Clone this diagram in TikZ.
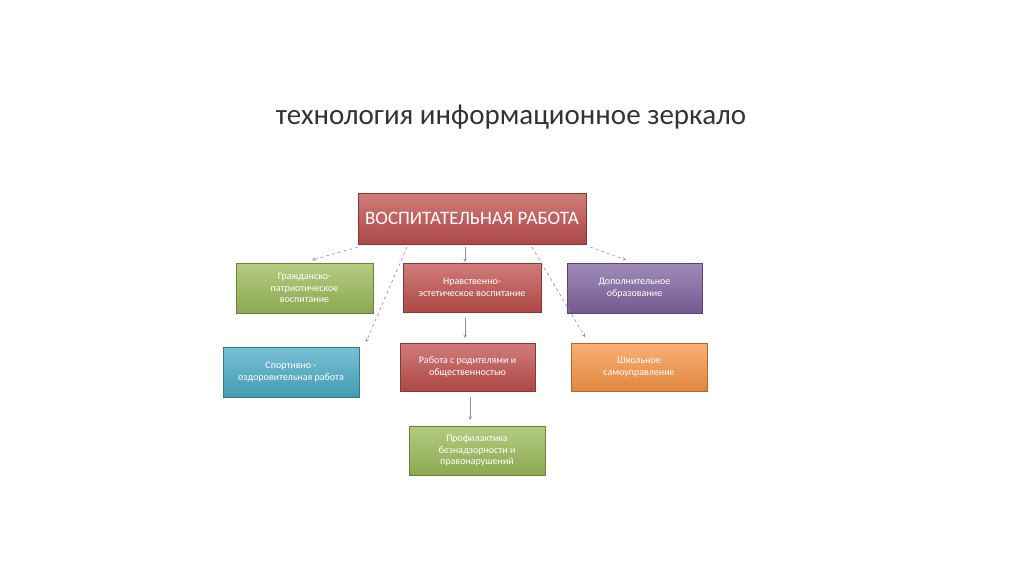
\documentclass[tikz,border=0pt]{standalone}
\usepackage{fontspec}
\setmainfont{Carlito}
\begin{document}
\begin{tikzpicture}[x=1pt,y=-1pt,
 bx/.style={draw=#1!70!black,line width=0.6pt,top color=#1!75!white,bottom color=#1!90!black,text=white,align=center,font=\fontsize{10}{11.5}\selectfont,inner sep=2pt},
 ar/.style={-stealth,draw=blue!30!gray!70,line width=0.6pt},
 da/.style={ar,dashed}]
\definecolor{cred}{HTML}{C0504D}\definecolor{cgreen}{HTML}{9BBB59}
\definecolor{cpurp}{HTML}{8064A2}\definecolor{caqua}{HTML}{4BACC6}\definecolor{corng}{HTML}{F79646}
\useasboundingbox (0,0) rectangle (1024,576);
\node[text=black!80,font=\fontsize{29}{32}\selectfont] (title) at (511,117) {технология информационное зеркало};
\node[bx=cred,minimum width=228pt,minimum height=51pt,font=\fontsize{19}{22}\selectfont] (main) at (472,218.5) {ВОСПИТАТЕЛЬНАЯ РАБОТА};
\node[bx=cgreen,minimum width=137pt,minimum height=50pt] (g) at (304.5,288) {Гражданско-\\патриотическое\\воспитание};
\node[bx=cred,minimum width=138pt,minimum height=49pt] (n) at (472,287.5) {Нравственно-\\эстетическое воспитание};
\node[bx=cpurp,minimum width=135pt,minimum height=50pt] (d) at (634.5,288) {Дополнительное\\образование};
\node[bx=caqua,minimum width=136pt,minimum height=50pt] (s) at (291,372) {Спортивно -\\оздоровительная работа};
\node[bx=cred,minimum width=135pt,minimum height=48pt] (r) at (467.5,367) {Работа с родителями и\\общественностью};
\node[bx=corng,minimum width=136pt,minimum height=48pt] (sh) at (639,367) {Школьное\\самоуправление};
\node[bx=cgreen,minimum width=136pt,minimum height=49pt] (p) at (477,450.5) {Профилактика\\безнадзорности и\\правонарушений};
\coordinate (a1) at (312,260); \coordinate (a2) at (366,342); \coordinate (a3) at (585,337); \coordinate (a4) at (626,260);
\coordinate (s1) at (358,247); \coordinate (s2) at (407,247); \coordinate (s3) at (532,247); \coordinate (s4) at (590,247);
\coordinate (s5) at (465,247); \coordinate (e5) at (465,262);
\coordinate (s6) at (465,318); \coordinate (e6) at (465,338);
\coordinate (s7) at (470,397); \coordinate (e7) at (470,420);
\draw[da] (s1) -- (a1);
\draw[da] (s2) -- (a2);
\draw[da] (s3) -- (a3);
\draw[da] (s4) -- (a4);
\draw[ar] (s5) -- (e5);
\draw[ar] (s6) -- (e6);
\draw[ar] (s7) -- (e7);
\end{tikzpicture}
\end{document}
